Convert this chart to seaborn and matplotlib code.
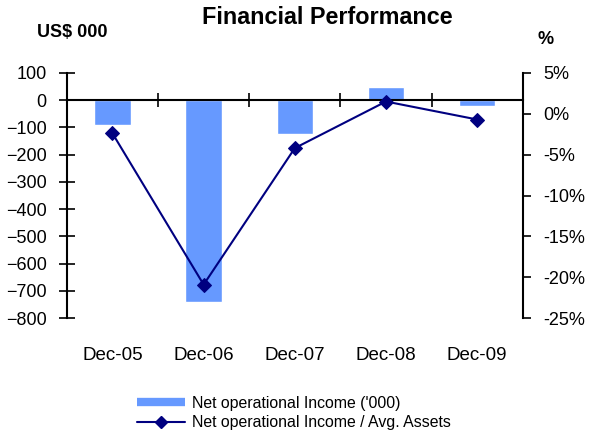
import numpy as np
import matplotlib
matplotlib.use('Agg')
import matplotlib.pyplot as plt
from matplotlib.lines import Line2D
from matplotlib.ticker import FuncFormatter
import seaborn as sns

# Data
periods = ['Dec-05', 'Dec-06', 'Dec-07', 'Dec-08', 'Dec-09']
net_income = [-90, -740, -125, 50, -23]          # US$ 000
income_to_assets = [-2.4, -20.9, -4.2, 1.5, -0.7]  # %

bar_color = '#6699FF'
line_color = '#000080'

sns.set_style('ticks', {'axes.edgecolor': 'black', 'text.color': 'black',
                        'xtick.color': 'black', 'ytick.color': 'black'})
plt.rcParams['font.family'] = ['Liberation Sans', 'DejaVu Sans']

fig = plt.figure(figsize=(5.92, 4.34), dpi=100)
fig.subplots_adjust(left=0.113, right=0.883, top=0.832, bottom=0.267)
ax = fig.add_subplot(111)
ax2 = ax.twinx()

# Bars on the left axis
sns.barplot(x=periods, y=net_income, color=bar_color, saturation=1,
            width=0.4, ax=ax, zorder=2)
ax.set_ylim(-800, 100)
ax.set_yticks(np.arange(-800, 101, 100))
ax.set_xlim(-0.5, len(periods) - 0.5)

# Line on the right axis
sns.lineplot(x=np.arange(len(periods)), y=income_to_assets, ax=ax2,
             color=line_color, marker='D', markersize=7, linewidth=1.5,
             markeredgecolor=line_color, sort=False, zorder=3)
ax2.set_ylim(-25, 5)
ax2.set_yticks(np.arange(-25, 6, 5))
ax2.yaxis.set_major_formatter(FuncFormatter(lambda v, p: f'{v:.0f}%'))
ax2.set_xlim(-0.5, len(periods) - 0.5)

# Zero line with category separators
ax.spines['bottom'].set_position(('data', 0))
ax.spines['bottom'].set_linewidth(1.5)
ax.set_xticks(np.arange(len(periods) - 1) + 0.5)
ax.set_xticklabels([])
ax.tick_params(axis='x', direction='inout', length=10, width=1.2)
ax.spines['top'].set_visible(False)
ax.spines['right'].set_visible(False)
ax.spines['left'].set_linewidth(1.5)
ax.tick_params(axis='y', direction='inout', length=11, width=1.2,
               labelsize=13, pad=9)
ax.set_xlabel('')
ax.set_ylabel('')

# Category labels below the plot
sec = ax.secondary_xaxis('bottom')
sec.set_xticks(np.arange(len(periods)))
sec.set_xticklabels(periods)
sec.tick_params(length=0, labelsize=13.5, pad=21)
sec.spines['bottom'].set_visible(False)

for s in ['top', 'left', 'bottom']:
    ax2.spines[s].set_visible(False)
ax2.spines['right'].set_linewidth(1.5)
ax2.tick_params(axis='y', direction='out', length=6, width=1.2,
                labelsize=13, pad=9)
ax2.tick_params(axis='x', length=0, labelbottom=False)
ax2.set_ylabel('')

# Titles
fig.text(0.553, 0.959, 'Financial Performance', ha='center', va='center',
         fontsize=16.8, fontweight='bold')
fig.text(0.122, 0.924, 'US$ 000', ha='center', va='center',
         fontsize=13, fontweight='bold')
fig.text(0.922, 0.908, '%', ha='center', va='center',
         fontsize=13, fontweight='bold')

# Legend
handles = [
    Line2D([], [], color=bar_color, linewidth=6, solid_capstyle='butt'),
    Line2D([], [], color=line_color, linewidth=1.5, marker='D', markersize=6),
]
labels = ["Net operational Income ('000)", 'Net operational Income / Avg. Assets']
fig.legend(handles, labels, loc='upper left', bbox_to_anchor=(0.221, 0.103),
           frameon=False, fontsize=11.4, handlelength=3.0, handletextpad=0.45,
           labelspacing=0.3, borderaxespad=0)

fig.savefig('out.png', dpi=100)
